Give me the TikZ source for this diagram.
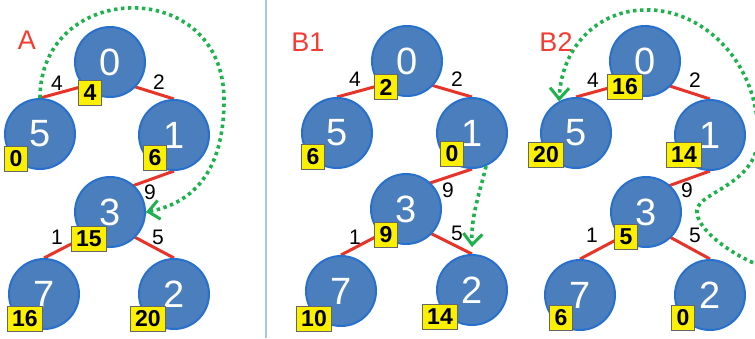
\documentclass[tikz,border=0pt]{standalone}
\usepackage{fontspec}
\setmainfont{Liberation Sans}
\usetikzlibrary{arrows.meta}
\pgfdeclarelayer{bg}
\pgfsetlayers{bg,main}
\definecolor{cfill}{RGB}{74,126,189}
\definecolor{cline}{RGB}{40,112,205}
\definecolor{cedge}{RGB}{232,52,40}
\definecolor{cgreen}{RGB}{30,178,76}
\definecolor{cbox}{RGB}{250,240,0}
\definecolor{cdiv}{RGB}{165,198,232}
\definecolor{clab}{RGB}{245,60,50}
\begin{document}
\begin{tikzpicture}[x=1pt,y=-1pt,
  vtx/.style={circle,fill=cfill,draw=cline,line width=2pt,minimum size=70pt,inner sep=0pt,text=white,font=\fontsize{38}{38}\selectfont},
  keybox/.style={draw=black!60,fill=cbox,line width=0.8pt,minimum width=22pt,minimum height=25pt,inner xsep=5pt,inner ysep=0pt,font=\fontsize{23}{23}\selectfont\bfseries},
  wt/.style={font=\fontsize{21}{21}\selectfont,inner sep=0pt},
  tedge/.style={draw=cedge,line width=3pt},
  walk/.style={draw=cgreen,line width=3.6pt,dash pattern=on 3.4pt off 3.6pt},
  walktip/.style={draw=cgreen,line width=3pt,solid,line cap=round,-{Straight Barb[length=11pt,width=19pt,line width=3pt]}},
  ptitle/.style={text=clab,font=\fontsize{27}{27}\selectfont,inner sep=0pt}]
\useasboundingbox (0,0) rectangle (755,338);
\clip (0,0) rectangle (755,338);
\begin{pgfonlayer}{bg}
\fill[white] (0,0) rectangle (755,338);
\draw[cdiv,line width=2pt] (266,0) -- (266,338);
\end{pgfonlayer}

% ---------- panel A ----------
\node[vtx] (a0) at (110,62) {0};
\node[vtx] (a5) at (40,134) {5};
\node[vtx] (a1) at (174,135) {1};
\node[vtx] (a3) at (110,212) {3};
\node[vtx] (a7) at (44,294) {7};
\node[vtx] (a2) at (174,294) {2};
% ---------- panel B1 ----------
\node[vtx] (p0) at (407,61) {0};
\node[vtx] (p5) at (337,133) {5};
\node[vtx] (p1) at (472,133) {1};
\node[vtx] (p3) at (406,209) {3};
\node[vtx] (p7) at (341,291) {7};
\node[vtx] (p2) at (472,290) {2};
% ---------- panel B2 ----------
\node[vtx] (q0) at (645,61) {0};
\node[vtx] (q5) at (576,133) {5};
\node[vtx] (q1) at (710,135) {1};
\node[vtx] (q3) at (646,212) {3};
\node[vtx] (q7) at (580,295) {7};
\node[vtx] (q2) at (710,295) {2};

% edges (behind the circles)
\begin{pgfonlayer}{bg}
\foreach \t in {a,p,q}{
  \draw[tedge] ([yshift=-17pt]\t0.center) -- (\t5.north);
  \draw[tedge] ([yshift=-17pt]\t0.center) -- (\t1.north);
  \draw[tedge] (\t1.south) -- ([yshift=18pt]\t3.center);
  \draw[tedge] ([yshift=-12pt]\t3.center) -- (\t7.north);
  \draw[tedge] ([yshift=-12pt]\t3.center) -- (\t2.north);
}
\end{pgfonlayer}

% key boxes
\node[keybox] (ka0) at (90,93) {4};
\node[keybox] (ka5) at (16,159) {0};
\node[keybox] (ka1) at (155,158) {6};
\node[keybox] (ka3) at (89,239) {15};
\node[keybox] (ka7) at (25,319) {16};
\node[keybox] (ka2) at (148,319) {20};
\node[keybox] (kp0) at (386,87) {2};
\node[keybox] (kp5) at (313,157) {6};
\node[keybox] (kp1) at (452,154) {0};
\node[keybox] (kp3) at (386,235) {9};
\node[keybox] (kp7) at (314,319) {10};
\node[keybox] (kp2) at (440,317) {14};
\node[keybox] (kq0) at (625,87) {16};
\node[keybox] (kq5) at (546,155) {20};
\node[keybox] (kq1) at (684,155) {14};
\node[keybox] (kq3) at (626,237) {5};
\node[keybox] (kq7) at (561,318) {6};
\node[keybox] (kq2) at (683,318) {0};

% edge weights
\node[wt] (wa5) at (57,83) {4};
\node[wt] (wa1) at (159,82) {2};
\node[wt] (wa3) at (150,192) {9};
\node[wt] (wa7) at (57,237) {1};
\node[wt] (wa2) at (158,237) {5};
\node[wt] (wp5) at (355,79) {4};
\node[wt] (wp1) at (457,79) {2};
\node[wt] (wp3) at (448,190) {9};
\node[wt] (wp7) at (355,237) {1};
\node[wt] (wp2) at (457,233) {5};
\node[wt] (wq5) at (593,80) {4};
\node[wt] (wq1) at (695,80) {2};
\node[wt] (wq3) at (687,190) {9};
\node[wt] (wq7) at (592,235) {1};
\node[wt] (wq2) at (695,235) {5};

% titles
\node[ptitle] (tA) at (27,40) {A};
\node[ptitle] (tB1) at (308,42) {B1};
\node[ptitle] (tB2) at (556,42) {B2};

% green walks
\draw[walk] (a5.north) .. controls (40,-20) and (224,-25) .. (224,100)
  .. controls (224,175) and (190,205) .. (a3.east);
\draw[walktip] ([shift={(3,-0.5)}]a3.east) -- (a3.east);
\coordinate (pend) at ([yshift=7pt]p2.north);
\draw[walk] (p1.-67) .. controls (480,192) and (470,218) .. (pend);
\draw[walktip] ([shift={(0.2,-3)}]pend) -- (pend);
\coordinate (qstart) at (766,268);
\draw[walk] (qstart) .. controls (730,255) and (695,228) .. (697,210)
  .. controls (699,192) and (755,185) .. (758,140)
  .. controls (760,60) and (700,8) .. (645,10)
  .. controls (600,10) and (560,45) .. (q5.118);
\draw[walktip] ([shift={(0.1,-3)}]q5.118) -- (q5.118);
\end{tikzpicture}
\end{document}
